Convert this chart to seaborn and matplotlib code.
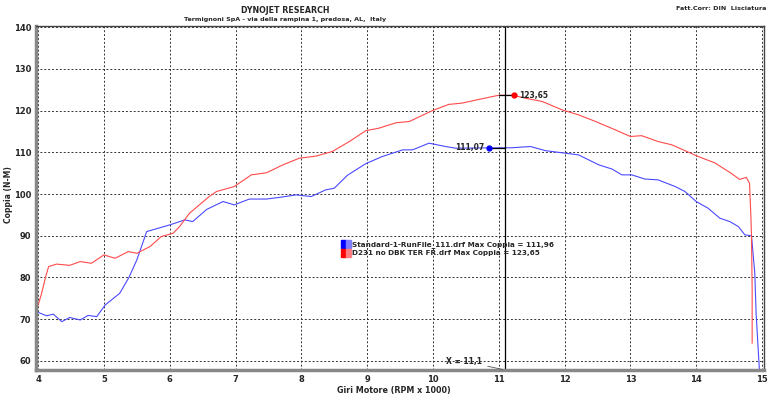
import numpy as np
import pandas as pd
import matplotlib
matplotlib.use('Agg')
import matplotlib.pyplot as plt
from matplotlib.patches import Rectangle
from matplotlib.ticker import MultipleLocator
import seaborn as sns

# Dyno run data (RPM x 1000, torque N-M)
rpm_std = [3.97, 4.13, 4.23, 4.36, 4.48, 4.64, 4.76, 4.89, 5.02, 5.24, 5.38, 5.5, 5.65,
           6.0, 6.23, 6.35, 6.56, 6.81, 6.98, 7.21, 7.47, 7.67, 7.92, 8.15, 8.37, 8.5,
           8.7, 8.98, 9.23, 9.54, 9.69, 9.94, 10.19, 10.34, 10.85, 11.2, 11.48, 11.71,
           11.96, 12.21, 12.52, 12.72, 12.87, 13.02, 13.22, 13.42, 13.68, 13.83, 14.0,
           14.18, 14.36, 14.51, 14.64, 14.74, 14.84, 14.89, 14.91, 14.96]
tq_std = [71.8, 70.8, 71.2, 69.4, 70.4, 69.8, 70.9, 70.6, 73.4, 76.2, 80.0, 84.2, 91.0,
          92.6, 93.8, 93.4, 96.3, 98.2, 97.4, 98.8, 98.8, 99.2, 99.8, 99.4, 101.0, 101.4,
          104.5, 107.3, 109.0, 110.6, 110.6, 112.2, 111.4, 111.0, 111.07, 111.1, 111.4, 110.4,
          109.9, 109.4, 107.0, 106.0, 104.6, 104.6, 103.6, 103.4, 101.8, 100.6, 98.2,
          96.6, 94.2, 93.4, 92.2, 90.2, 90.0, 81.0, 71.4, 57.8]

rpm_d231 = [3.97, 4.05, 4.12, 4.16, 4.28, 4.48, 4.64, 4.81, 5.0, 5.17, 5.37, 5.5, 5.7,
            5.87, 6.05, 6.15, 6.3, 6.45, 6.6, 6.71, 6.98, 7.24, 7.47, 7.72, 7.97, 8.22,
            8.47, 8.73, 8.98, 9.18, 9.44, 9.64, 9.99, 10.24, 10.44, 10.7, 11.0, 11.23,
            11.4, 11.66, 11.96, 12.21, 12.47, 12.77, 13.0, 13.17, 13.42, 13.63, 13.83,
            14.03, 14.28, 14.53, 14.66, 14.76, 14.81, 14.83, 14.84, 14.85, 14.85]
tq_d231 = [71.8, 76.0, 80.5, 82.6, 83.2, 82.9, 83.8, 83.4, 85.4, 84.6, 86.2, 85.8, 87.4,
           89.8, 90.6, 92.2, 95.4, 97.4, 99.4, 100.6, 101.8, 104.6, 105.1, 107.0, 108.6, 109.1,
           110.2, 112.6, 115.2, 115.8, 117.1, 117.4, 120.0, 121.5, 121.8, 122.7, 123.7, 123.65,
           123.0, 122.2, 120.2, 119.0, 117.4, 115.4, 113.8, 114.0, 112.6, 111.8, 110.4,
           109.0, 107.5, 105.0, 103.5, 104.0, 102.6, 95.0, 89.8, 77.0, 64.2]

cursor_x = 11.1
marker_std = (10.85, 111.07)
marker_d231 = (11.23, 123.65)
legend_labels = ['Standard-1-RunFile_111.drf Max Coppia = 111,96',
                 'D231 no DBK TER FR.drf Max Coppia = 123,65']

std_df = pd.DataFrame({'rpm': rpm_std, 'torque': tq_std})
d231_df = pd.DataFrame({'rpm': rpm_d231, 'torque': tq_d231})

sns.set_style('white')
plt.rcParams['font.family'] = ['DejaVu Sans']

fig = plt.figure(figsize=(7.69, 3.97), dpi=100)
ax = fig.add_axes([0.047, 0.068, 0.9465, 0.8665])

sns.lineplot(data=std_df, x='rpm', y='torque', ax=ax, color='#4a4aff', lw=0.8,
             sort=False, estimator=None)
sns.lineplot(data=d231_df, x='rpm', y='torque', ax=ax, color='#ff4a4a', lw=0.8,
             sort=False, estimator=None)

ax.set_xlim(3.97, 15.03)
ax.set_ylim(57.8, 140.3)
ax.xaxis.set_major_locator(MultipleLocator(1))
ax.xaxis.set_minor_locator(MultipleLocator(0.2))
ax.yaxis.set_major_locator(MultipleLocator(10))
ax.yaxis.set_minor_locator(MultipleLocator(2))
ax.grid(True, which='major', color='#333333', ls=(0, (2, 2)), lw=0.7)
ax.tick_params(which='major', length=2.5, width=0.8, labelsize=6, pad=1)
ax.tick_params(which='minor', length=1.8, width=0.6)
for lab in ax.get_xticklabels() + ax.get_yticklabels():
    lab.set_fontweight('bold')

for side in ['left', 'bottom']:
    ax.spines[side].set_color('#888888')
    ax.spines[side].set_linewidth(2.5)
for side in ['top', 'right']:
    ax.spines[side].set_color('#444444')
    ax.spines[side].set_linewidth(1)

ax.set_xlabel('')
ax.set_ylabel('')
fig.text(0.512, 0.004, 'Giri Motore (RPM x 1000)', fontsize=5.8, fontweight='bold',
         ha='center', va='bottom')
fig.text(0.011, 1 - 195 / 397, 'Coppia (N-M)', fontsize=5.5, fontweight='bold',
         ha='center', va='center', rotation=90)

# cursor line and markers
ax.axvline(cursor_x, color='black', lw=0.9)
ax.plot([marker_std[0], cursor_x], [marker_std[1]] * 2, color='black', lw=0.9)
ax.plot([cursor_x - 0.1, marker_d231[0]], [marker_d231[1]] * 2, color='black', lw=0.9)
ax.plot(*marker_std, 'o', color='#0000ff', ms=3.5)
ax.plot(*marker_d231, 'o', color='#ff0000', ms=3.5)
ax.text(marker_std[0] - 0.07, marker_std[1], '111,07', fontsize=5.5, fontweight='bold',
        ha='right', va='center')
ax.text(marker_d231[0] + 0.08, marker_d231[1], '123,65', fontsize=5.5, fontweight='bold',
        ha='left', va='center')
ax.annotate('X = 11,1', xy=(cursor_x, 57.8), xytext=(10.74, 59.9), fontsize=5.5,
            fontweight='bold', ha='right', va='center',
            arrowprops=dict(arrowstyle='-', color='#555555', lw=0.6))

# legend boxes
for i, (lab, c1, c2) in enumerate(zip(legend_labels, ['#0000ff', '#ff0000'],
                                      ['#8080ff', '#ff8080'])):
    y0 = 88.0 - i * 2.1
    ax.add_patch(Rectangle((8.60, y0 - 1.0), 0.075, 2.0, color=c1, zorder=5))
    ax.add_patch(Rectangle((8.675, y0 - 1.0), 0.075, 2.0, color=c2, zorder=5))
    ax.text(8.77, y0, lab, fontsize=5.2, fontweight='bold', va='center', ha='left', zorder=5)

fig.text(0.371, 0.985, 'DYNOJET RESEARCH', fontsize=5.7, fontweight='bold',
         ha='center', va='top')
fig.text(0.371, 0.958, 'Termignoni SpA - via della rampina 1, predosa, AL,  Italy',
         fontsize=4.6, fontweight='bold', ha='center', va='top')
fig.text(0.997, 0.985, 'Fatt.Corr: DIN  Lisciatura', fontsize=4.6, fontweight='bold',
         ha='right', va='top')

fig.savefig('out.png', dpi=100)
